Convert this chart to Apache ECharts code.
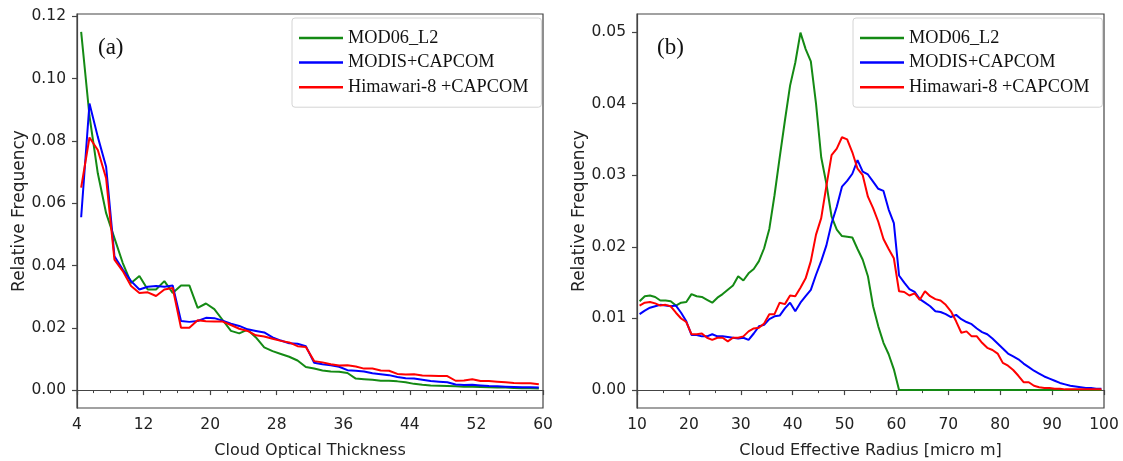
<!DOCTYPE html>
<html>
<head>
<meta charset="utf-8">
<script src="https://cdn.jsdelivr.net/npm/echarts@6/dist/echarts.min.js"></script>
<style>
  html, body { margin: 0; padding: 0; background: #fff; }
  #chart { width: 1123px; height: 461px; }
</style>
</head>
<body>
<div id="chart"></div>
<script>
// series names (legend order)
const names = ['MOD06_L2', 'MODIS+CAPCOM', 'Himawari-8 +CAPCOM'];
const colors = ['#148a14', '#0000ff', '#ff0000'];

// (a) cloud optical thickness, bin centres 4.5 ... 59.5
const cotX = Array.from({ length: 56 }, (_, i) => 4.5 + i);
const cotMod06 = [
  0.115, 0.088, 0.0696, 0.0568, 0.0488, 0.0408, 0.0344, 0.0366, 0.0323, 0.0323,
  0.035, 0.0312, 0.0336, 0.0336, 0.0264, 0.0278, 0.026, 0.0225, 0.019, 0.0182,
  0.0194, 0.0169, 0.0137, 0.0125, 0.0116, 0.0107, 0.0095, 0.0074, 0.0069, 0.0063,
  0.006, 0.0059, 0.0055, 0.0037, 0.0035, 0.0033, 0.003, 0.003, 0.0028, 0.0025,
  0.002, 0.0017, 0.0015, 0.0014, 0.0013, 0.0012, 0.0011, 0.0011, 0.001, 0.0009,
  0.0008, 0.0008, 0.0007, 0.0006, 0.0006, 0.0005
];
const cotModis = [
  0.0555, 0.092, 0.0813, 0.0717, 0.043, 0.0387, 0.035, 0.0323, 0.0332, 0.0334,
  0.0332, 0.0336, 0.0222, 0.0219, 0.0222, 0.0232, 0.0231, 0.0223, 0.0213, 0.0206,
  0.0195, 0.019, 0.0185, 0.0169, 0.0159, 0.015, 0.0149, 0.0141, 0.0088, 0.0083,
  0.008, 0.0075, 0.0064, 0.0062, 0.006, 0.0054, 0.0051, 0.0048, 0.0042, 0.0038,
  0.0037, 0.0033, 0.0029, 0.0027, 0.0025, 0.0018, 0.0016, 0.0017, 0.0015, 0.0013,
  0.0012, 0.0011, 0.001, 0.0009, 0.0009, 0.0008
];
const cotHima = [
  0.065, 0.0811, 0.0771, 0.068, 0.0419, 0.0382, 0.0334, 0.0312, 0.0314, 0.0302,
  0.0323, 0.0328, 0.02, 0.02, 0.0224, 0.0221, 0.022, 0.022, 0.0209, 0.0197,
  0.019, 0.0176, 0.0172, 0.0165, 0.0158, 0.0153, 0.0141, 0.0138, 0.0093, 0.0089,
  0.0083, 0.0079, 0.008, 0.0076, 0.0069, 0.0069, 0.0063, 0.0062, 0.0052, 0.005,
  0.0051, 0.0047, 0.0046, 0.0045, 0.0045, 0.003, 0.0031, 0.0035, 0.0029, 0.0029,
  0.0027, 0.0025, 0.0023, 0.0022, 0.0022, 0.0019
];

// (b) cloud effective radius, bin centres 10.5 ... 99.5
const cerX = Array.from({ length: 90 }, (_, i) => 10.5 + i);
const cerMod06 = [
  0.0124, 0.0131, 0.0132, 0.013, 0.0125, 0.0125, 0.0124, 0.0118, 0.0122, 0.0123,
  0.0134, 0.0131, 0.013, 0.0126, 0.0122, 0.0129, 0.0134, 0.014, 0.0146, 0.0159,
  0.0153, 0.0163, 0.0169, 0.018, 0.0198, 0.0225, 0.0272, 0.0325, 0.0376, 0.0425,
  0.0457, 0.0499, 0.0476, 0.0459, 0.04, 0.0325, 0.0288, 0.0242, 0.0224, 0.0215,
  0.0214, 0.0213, 0.0197, 0.0182, 0.0159, 0.0117, 0.0089, 0.0066, 0.005, 0.0029,
  0, 0, 0, 0, 0, 0, 0, 0, 0, 0,
  0, 0, 0, 0, 0, 0, 0, 0, 0, 0,
  0, 0, 0, 0, 0, 0, 0, 0, 0, 0,
  0, 0, 0, 0, 0, 0, 0, 0, 0, 0
];
const cerModis = [
  0.0106, 0.0111, 0.0115, 0.0117, 0.0119, 0.0118, 0.0117, 0.0118, 0.0108, 0.0096,
  0.0077, 0.0077, 0.0075, 0.0075, 0.0078, 0.0075, 0.0075, 0.0074, 0.0073, 0.0072,
  0.0073, 0.007, 0.0079, 0.0089, 0.0091, 0.0099, 0.0103, 0.0104, 0.0114, 0.0122,
  0.011, 0.0122, 0.0131, 0.014, 0.0161, 0.018, 0.0202, 0.0233, 0.0256, 0.0284,
  0.0292, 0.0302, 0.0321, 0.0305, 0.0301, 0.0291, 0.0281, 0.0278, 0.0252, 0.0233,
  0.016, 0.015, 0.0141, 0.0137, 0.0127, 0.0122, 0.0117, 0.011, 0.0109, 0.0106,
  0.0102, 0.0105, 0.0099, 0.0095, 0.0092, 0.0086, 0.0081, 0.0078, 0.0072, 0.0065,
  0.0058, 0.0051, 0.0047, 0.0043, 0.0037, 0.0032, 0.0027, 0.0023, 0.0019, 0.0016,
  0.0013, 0.001, 0.0008, 0.0006, 0.0005, 0.0004, 0.0003, 0.0003, 0.0002, 0.0002
];
const cerHima = [
  0.0118, 0.0122, 0.0123, 0.0121, 0.0118, 0.0119, 0.0117, 0.0108, 0.01, 0.0095,
  0.0078, 0.0078, 0.0079, 0.0073, 0.007, 0.0073, 0.0073, 0.0068, 0.0073, 0.0073,
  0.0075, 0.0082, 0.0086, 0.0087, 0.0093, 0.0106, 0.0106, 0.0122, 0.012, 0.0132,
  0.0131, 0.0143, 0.0156, 0.018, 0.0217, 0.024, 0.0285, 0.0328, 0.0337, 0.0353,
  0.035, 0.0332, 0.0309, 0.03, 0.027, 0.0254, 0.0235, 0.0211, 0.0197, 0.0184,
  0.0138, 0.0137, 0.0132, 0.0135, 0.0126, 0.0138, 0.0131, 0.0127, 0.0125, 0.0119,
  0.011, 0.0096, 0.008, 0.0082, 0.0075, 0.0075, 0.0066, 0.0059, 0.0056, 0.0051,
  0.0038, 0.0034, 0.0028, 0.002, 0.0011, 0.0011, 0.0006, 0.0004, 0.0003, 0.0003,
  0.0002, 0.0002, 0.0001, 0.0001, 0.0001, 0.0001, 0.0001, 0.0001, 0.0001, 0.0001
];

// tick labels
const cotYTicks = [0, 0.02, 0.04, 0.06, 0.08, 0.10, 0.12];
const cerYTicks = [0, 0.01, 0.02, 0.03, 0.04, 0.05];

const chart = echarts.init(document.getElementById('chart'));

const spine = '#444';
const sans = 'DejaVu Sans';
const serif = 'Liberation Serif';

const zip = (xs, ys) => xs.map((x, i) => [x, ys[i]]);

const xAxisBase = (idx, name, min, max, interval, minorSplit) => ({
  type: 'value',
  gridIndex: idx,
  min: min,
  max: max,
  interval: interval,
  name: name,
  nameLocation: 'middle',
  nameGap: 35,
  nameTextStyle: { fontFamily: sans, fontSize: 16, color: '#222' },
  axisLine: { show: true, lineStyle: { color: spine, width: 1.2 } },
  axisTick: { show: true, length: 5, lineStyle: { color: spine, width: 1.2 } },
  minorTick: { show: true, splitNumber: minorSplit, length: 3, lineStyle: { color: spine, width: 1 } },
  axisLabel: { fontFamily: sans, fontSize: 15.5, color: '#222', margin: 9 },
  splitLine: { show: false },
});

const yAxisBase = (idx, min, max, ticks, digits) => ({
  type: 'value',
  gridIndex: idx,
  min: min,
  max: max,
  name: 'Relative Frequency',
  nameLocation: 'middle',
  nameGap: 49,
  nameTextStyle: { fontFamily: sans, fontSize: 17, color: '#222' },
  axisLine: { show: true, lineStyle: { color: spine, width: 1.2 } },
  axisTick: { show: true, length: 5, customValues: ticks, lineStyle: { color: spine, width: 1.2 } },
  axisLabel: {
    fontFamily: sans, fontSize: 15.5, color: '#222', margin: 11,
    customValues: ticks,
    formatter: (v) => v.toFixed(digits),
  },
  splitLine: { show: false },
});

const legendBase = (left) => ({
  orient: 'vertical',
  left: left,
  top: 18,
  data: names,
  icon: 'rect',
  itemWidth: 44,
  itemHeight: 2.5,
  itemGap: 4.6,
  padding: [10, 13, 10, 7],
  borderColor: '#d4d4d4',
  borderWidth: 1,
  borderRadius: 3,
  backgroundColor: 'rgba(255,255,255,0.85)',
  textStyle: { fontFamily: serif, fontSize: 18.3, color: '#111', lineHeight: 20 },
});

const lineSeries = (name, color, xIdx, data) => ({
  name: name,
  type: 'line',
  xAxisIndex: xIdx,
  yAxisIndex: xIdx,
  showSymbol: false,
  symbol: 'none',
  color: color,
  lineStyle: { width: 2, color: color },
  data: data,
  animation: false,
});

const option = {
  backgroundColor: '#fff',
  animation: false,
  grid: [
    { left: 77, top: 14, width: 466, height: 394, show: true, borderColor: spine, borderWidth: 1.2, outerBoundsMode: 'none', containLabel: false },
    { left: 637, top: 14, width: 467, height: 394, show: true, borderColor: spine, borderWidth: 1.2, outerBoundsMode: 'none', containLabel: false },
  ],
  xAxis: [
    xAxisBase(0, 'Cloud Optical Thickness', 4, 60, 8, 4),
    xAxisBase(1, 'Cloud Effective Radius [micro m]', 10, 100, 10, 2),
  ],
  yAxis: [
    yAxisBase(0, -0.00575, 0.12075, cotYTicks, 2),
    yAxisBase(1, -0.0025, 0.0525, cerYTicks, 2),
  ],
  legend: [legendBase(292), legendBase(853)],
  graphic: [
    { type: 'text', left: 98, top: 36, style: { text: '(a)', font: '23px "Liberation Serif"', fill: '#111' } },
    { type: 'text', left: 657, top: 36, style: { text: '(b)', font: '23px "Liberation Serif"', fill: '#111' } },
  ],
  series: [
    lineSeries(names[0], colors[0], 0, zip(cotX, cotMod06)),
    lineSeries(names[1], colors[1], 0, zip(cotX, cotModis)),
    lineSeries(names[2], colors[2], 0, zip(cotX, cotHima)),
    lineSeries(names[0], colors[0], 1, zip(cerX, cerMod06)),
    lineSeries(names[1], colors[1], 1, zip(cerX, cerModis)),
    lineSeries(names[2], colors[2], 1, zip(cerX, cerHima)),
  ],
};

chart.setOption(option);
</script>
</body>
</html>
